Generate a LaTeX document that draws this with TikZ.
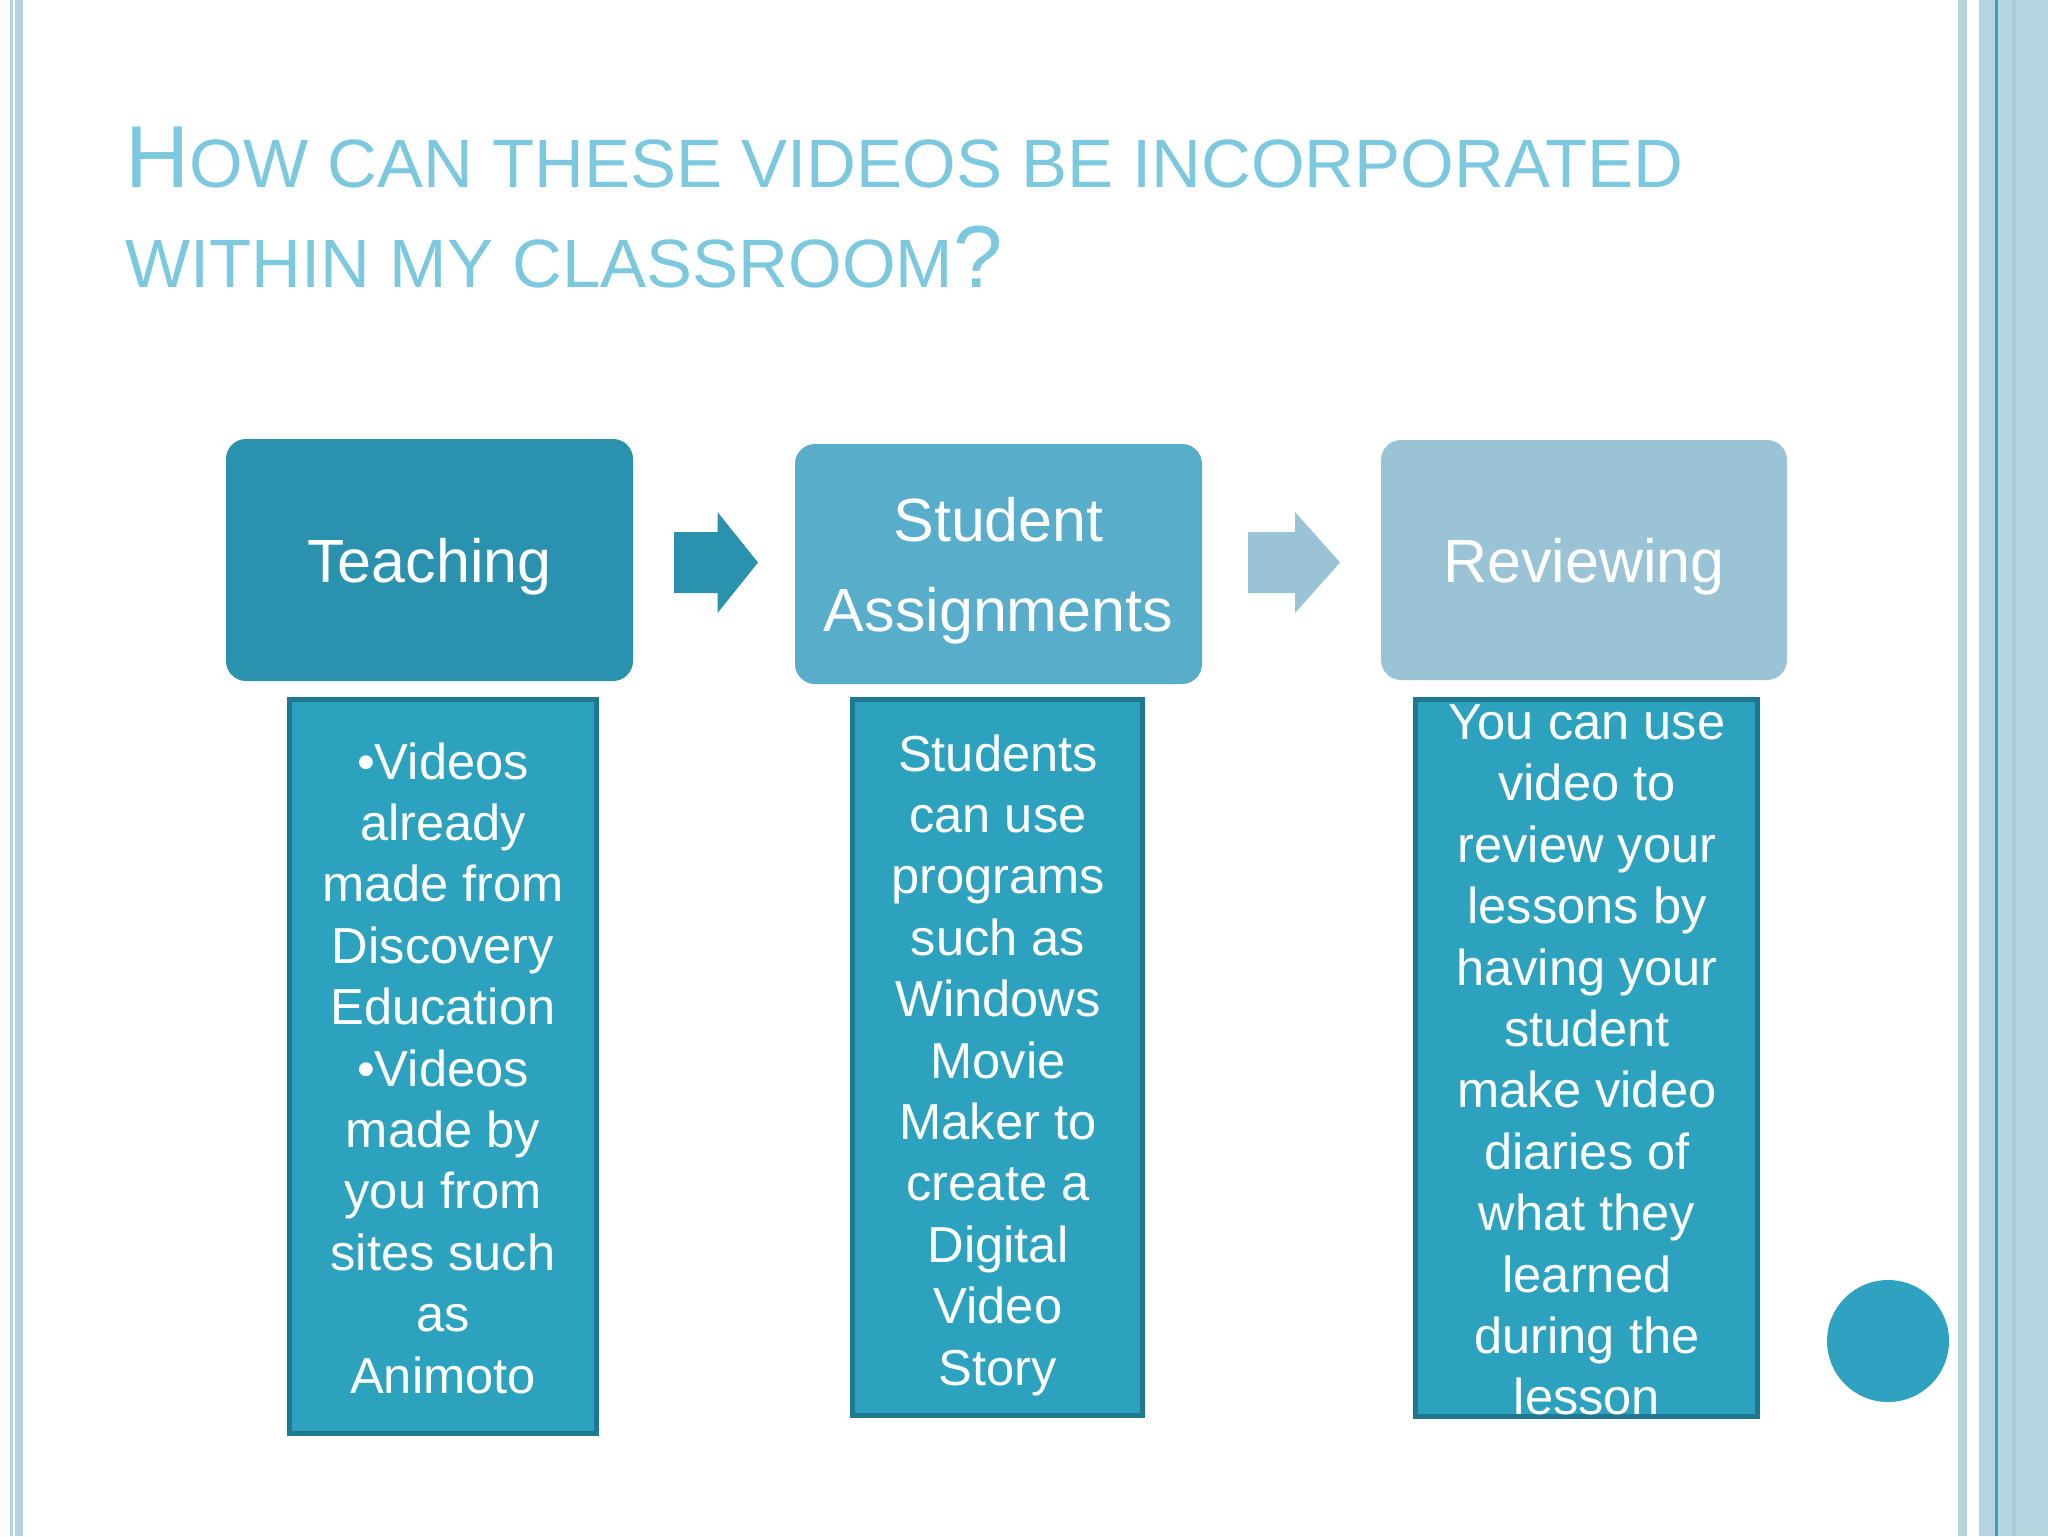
\documentclass[tikz,border=0pt]{standalone}
\usepackage{graphicx}
\usepackage{fontspec}
\setmainfont{Liberation Sans}
\definecolor{titlec}{HTML}{7CC9DF}
\definecolor{teachc}{HTML}{2A92AE}
\definecolor{studc}{HTML}{58ADCB}
\definecolor{revc}{HTML}{9AC4D6}
\definecolor{boxfill}{HTML}{2CA2BF}
\definecolor{boxedge}{HTML}{1E7891}
\definecolor{stripec}{HTML}{B5D4DF}
\definecolor{stripedk}{HTML}{3A9CC0}
\definecolor{stripemid}{HTML}{A6CBD8}
\definecolor{dotc}{HTML}{2EA2C0}
\begin{document}
\begin{tikzpicture}[x=0.5pt,y=-0.5pt,
  titletext/.style={inner sep=0pt, text=titlec, font=\fontsize{34.2}{40}\selectfont},
  topbox/.style={rounded corners=10pt, inner sep=0pt, text=white, align=center,
    text depth=0pt, font=\fontsize{30.5}{45}\selectfont},
  detailbox/.style={draw=boxedge, line width=2.5pt, fill=boxfill, inner sep=0pt},
  detailtext/.style={inner sep=0pt, text=white, align=center,
    font=\fontsize{25.3}{30.7}\selectfont}
]
\useasboundingbox (0,0) rectangle (2048,1536);
\fill[white] (0,0) rectangle (2048,1536);
% side stripes
\fill[stripec] (10,0) rectangle (13.3,1536);
\fill[stripec] (15.3,0) rectangle (23.3,1536);
\fill[stripec] (1958.3,0) rectangle (1966.7,1536);
\fill[stripec] (1979.3,0) rectangle (2048,1536);
\fill[stripemid] (2011.7,0) rectangle (2016,1536);
\fill[stripedk] (1995,0) rectangle (1998.3,1536);
% title
\node[titletext, anchor=base west] (title1) at (125,187)
  {\scalebox{1.0085}[1]{{\fontsize{44}{50}\selectfont H}OW CAN THESE VIDEOS BE INCORPORATED}};
\node[titletext, anchor=base west] (title2) at (125,287)
  {\scalebox{1.0085}[1]{WITHIN MY CLASSROOM{\fontsize{44}{50}\selectfont ?}}};
% top boxes
\node[topbox, fill=teachc, minimum width=203.5pt, minimum height=121pt] (teach) at (429.5,560) {Teaching};
\node[topbox, fill=studc, minimum width=203.5pt, minimum height=120pt] (stud) at (998.5,564) {Student\\Assignments};
\node[topbox, fill=revc, minimum width=203pt, minimum height=120pt] (rev) at (1584,560) {Reviewing};
% block arrows
\fill[teachc] (674,532) -- (717.5,532) -- (717.5,512) -- (758,562.5) -- (717.5,613) -- (717.5,593) -- (674,593) -- cycle;
\fill[revc] (1248,532) -- (1295,532) -- (1295,512) -- (1340,562.5) -- (1295,613) -- (1295,593) -- (1248,593) -- cycle;
% detail boxes
\node[detailbox, minimum width=153.5pt, minimum height=367pt] (d1) at (443,1066.5) {};
\node[detailbox, minimum width=145pt, minimum height=358pt] (d2) at (997.5,1057.5) {};
\node[detailbox, minimum width=171pt, minimum height=358.5pt] (d3) at (1586.5,1058) {};
\node[detailtext] (d1t) at (443,1068) {•Videos\\already\\made from\\Discovery\\Education\\•Videos\\made by\\you from\\sites such\\as\\Animoto};
\node[detailtext] (d2t) at (998,1065) {Students\\can use\\programs\\such as\\Windows\\Movie\\Maker to\\create a\\Digital\\Video\\Story};
\node[detailtext] (d3t) at (1587,1060) {You can use\\video to\\review your\\lessons by\\having your\\student\\make video\\diaries of\\what they\\learned\\during the\\lesson};
% dot
\node[circle, fill=dotc, minimum size=61pt, inner sep=0pt] (dot) at (1888,1341) {};
\end{tikzpicture}
\end{document}
